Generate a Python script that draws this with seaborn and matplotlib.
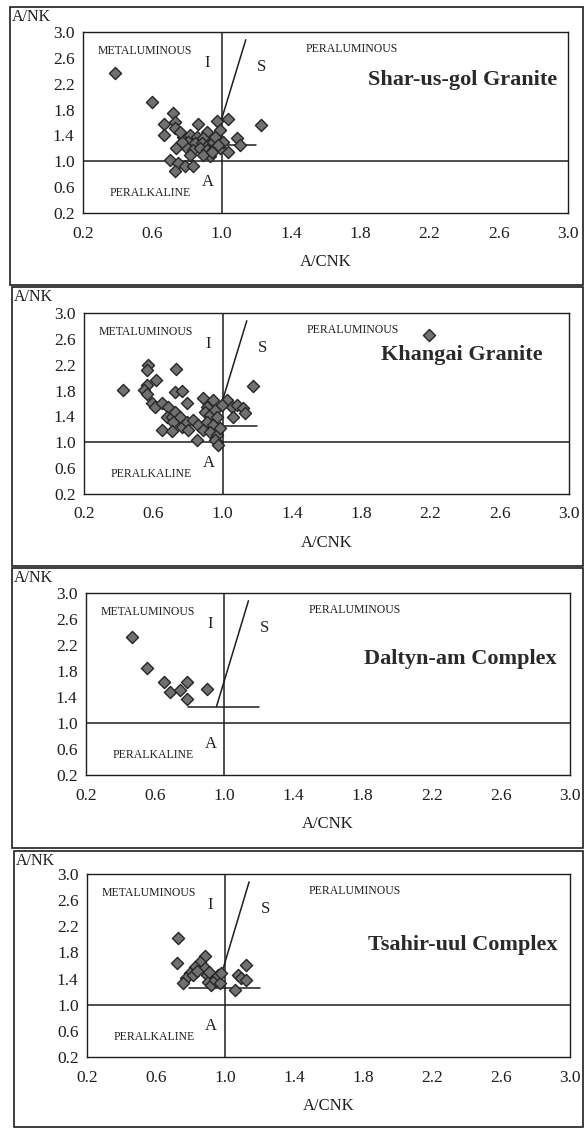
import numpy as np
import pandas as pd
import matplotlib
matplotlib.use("Agg")
import matplotlib.pyplot as plt
import seaborn as sns
from matplotlib.patches import Rectangle

# A/CNK vs A/NK data
shar_acnk = [0.385, 0.597, 0.721, 0.668, 0.731, 0.668, 0.731, 0.866, 0.972, 1.039,
             0.991, 0.914, 0.737, 1.087, 1.106, 1.039, 0.933, 0.702, 0.750, 0.789,
             0.837, 0.731, 1.226, 0.779, 0.818, 0.856, 0.895, 0.808, 0.846, 0.885,
             0.923, 0.952, 0.799, 0.837, 0.875, 0.914, 0.952, 0.991, 1.010, 0.962,
             0.981, 0.818, 0.895, 0.943, 0.770, 0.760]
shar_ank = [2.37, 1.92, 1.74, 1.57, 1.61, 1.40, 1.51, 1.57, 1.62, 1.655,
            1.485, 1.46, 1.21, 1.356, 1.25, 1.14, 1.087, 1.02, 0.969, 0.932,
            0.93, 0.85, 1.56, 1.381, 1.407, 1.381, 1.356, 1.304, 1.279, 1.279,
            1.253, 1.304, 1.20, 1.175, 1.20, 1.175, 1.175, 1.20, 1.304, 1.381,
            1.253, 1.098, 1.098, 1.149, 1.304, 1.458]

khan_acnk = [0.427, 0.571, 0.562, 0.731, 0.562, 0.548, 0.562, 0.616, 0.725, 0.764,
             0.797, 0.591, 0.610, 0.649, 0.687, 0.678, 0.706, 0.725, 0.754, 0.716,
             0.649, 0.706, 0.764, 0.793, 0.802, 0.831, 0.860, 0.850, 0.889, 0.946,
             0.908, 0.899, 0.927, 0.956, 0.966, 0.908, 0.946, 0.889, 0.927, 0.966,
             0.956, 0.975, 0.985, 1.024, 1.053, 1.082, 1.120, 1.063, 1.130, 0.995,
             1.174, 2.19]
khan_ank = [1.81, 2.197, 2.12, 2.135, 1.887, 1.81, 1.743, 1.965, 1.784, 1.795,
            1.604, 1.604, 1.552, 1.604, 1.552, 1.397, 1.397, 1.474, 1.397, 1.32,
            1.19, 1.175, 1.242, 1.32, 1.19, 1.346, 1.268, 1.036, 1.681, 1.655,
            1.552, 1.474, 1.423, 1.50, 1.397, 1.32, 1.268, 1.19, 1.165, 1.113,
            1.036, 0.958, 1.217, 1.655, 1.552, 1.578, 1.526, 1.397, 1.45, 1.578,
            1.876, 2.66]

dalt_acnk = [0.466, 0.551, 0.651, 0.686, 0.744, 0.782, 0.782, 0.898]
dalt_ank = [2.324, 1.848, 1.633, 1.47, 1.506, 1.633, 1.367, 1.516]

tsah_acnk = [0.728, 0.722, 0.883, 0.854, 0.825, 0.796, 0.773, 0.757, 0.815, 0.883,
             0.893, 0.902, 0.921, 0.940, 0.960, 0.969, 0.979, 1.120, 1.076, 1.095,
             1.120, 1.057, 0.910, 0.835]
tsah_ank = [2.017, 1.635, 1.747, 1.66, 1.583, 1.492, 1.406, 1.339, 1.456, 1.559,
            1.456, 1.354, 1.304, 1.38, 1.456, 1.339, 1.48, 1.609, 1.456, 1.406,
            1.38, 1.227, 1.50, 1.52]

names = ["Shar-us-gol Granite", "Khangai Granite", "Daltyn-am Complex", "Tsahir-uul Complex"]
xs = [shar_acnk, khan_acnk, dalt_acnk, tsah_acnk]
ys = [shar_ank, khan_ank, dalt_ank, tsah_ank]

ticks = [0.2, 0.6, 1.0, 1.4, 1.8, 2.2, 2.6, 3.0]

# field boundaries
is_split_x = [1.2]          # end of the I/S short line
is_split_y = 1.25
slope_sa = 8.8               # I-S dividing line slope through (1.0, 1.65)
short_start = [1.0, 1.0, 0.79, 0.79]
diag_start = [1.0, 1.0, 0.955, 0.99]

# layout (pixels on the 585x1128 sheet)
W, H = 585, 1128
axes_px = [(83, 568, 32, 213), (84, 569, 313, 494), (86, 570, 593, 775), (87, 570, 874, 1057)]
frames_px = [(10, 583, 7, 285), (12, 583, 287, 566), (12, 583, 568, 848), (14, 583, 851, 1127)]
title_pos = [(2.94, 2.26), (2.85, 2.35), (2.92, 1.98), (2.93, 1.91)]

sns.set_style("white")
plt.rcParams['font.family'] = ['Liberation Serif', 'DejaVu Serif']
ink = "#1e1e1e"

fig = plt.figure(figsize=(W / 100, H / 100), dpi=100)

for i in range(4):
    l, r, t, b = axes_px[i]
    ax = fig.add_axes([l / W, 1 - b / H, (r - l) / W, (b - t) / H])
    df = pd.DataFrame({"A/CNK": xs[i], "A/NK": ys[i]})
    sns.scatterplot(data=df, x="A/CNK", y="A/NK", ax=ax, marker="D", s=38,
                    color="#707070", edgecolor="#262626", linewidth=1.0, zorder=3)
    ax.set_xlim(0.2, 3.0)
    ax.set_ylim(0.2, 3.0)
    ax.set_xticks(ticks)
    ax.set_yticks(ticks)
    ax.set_xticklabels([f"{v:.1f}" for v in ticks])
    ax.set_yticklabels([f"{v:.1f}" for v in ticks])
    ax.tick_params(axis="x", direction="in", length=3, labelsize=12.5, pad=9, colors=ink)
    ax.tick_params(axis="y", direction="out", length=3, labelsize=12.5, pad=3, colors=ink)
    ax.set_xlabel("A/CNK", fontsize=12, color=ink, labelpad=9)
    ax.set_ylabel("")
    for sp in ax.spines.values():
        sp.set_color(ink)
        sp.set_linewidth(1.0)

    # boundaries
    ax.axvline(1.0, color=ink, lw=1.1, zorder=2)
    ax.axhline(1.0, color=ink, lw=1.1, zorder=2)
    ax.plot([short_start[i], is_split_x[0]], [is_split_y, is_split_y], color=ink, lw=1.1, zorder=2)
    x0 = diag_start[i]
    x1 = 1.0 + (2.88 - 1.65) / slope_sa
    ax.plot([x0, x1], [1.65 + slope_sa * (x0 - 1.0), 2.88], color=ink, lw=1.1, zorder=2)

    # field labels
    ax.text(0.287, 2.71, "METALUMINOUS", fontsize=8.5, color=ink, va="center")
    ax.text(0.916, 2.52, "I", fontsize=12, color=ink, ha="center", va="center")
    ax.text(1.233, 2.46, "S", fontsize=12, color=ink, ha="center", va="center")
    ax.text(1.487, 2.74, "PERALUMINOUS", fontsize=8.5, color=ink, va="center")
    ax.text(0.356, 0.51, "PERALKALINE", fontsize=8.5, color=ink, va="center")
    ax.text(0.92, 0.68, "A", fontsize=12, color=ink, ha="center", va="center")
    tx, ty = title_pos[i]
    ax.text(tx, ty, names[i], fontsize=16, fontweight="bold", color="#2a2a2a",
            ha="right", va="center")

    fl, fr, ft, fb = frames_px[i]
    fig.add_artist(Rectangle((fl / W, 1 - fb / H), (fr - fl) / W, (fb - ft) / H,
                             transform=fig.transFigure, fill=False, edgecolor=ink, lw=1.2))
    fig.text((fl + 2) / W, 1 - (ft + 10) / H, "A/NK", fontsize=11.5, color=ink,
             ha="left", va="center")

fig.savefig("out.png", dpi=100, facecolor="white")
